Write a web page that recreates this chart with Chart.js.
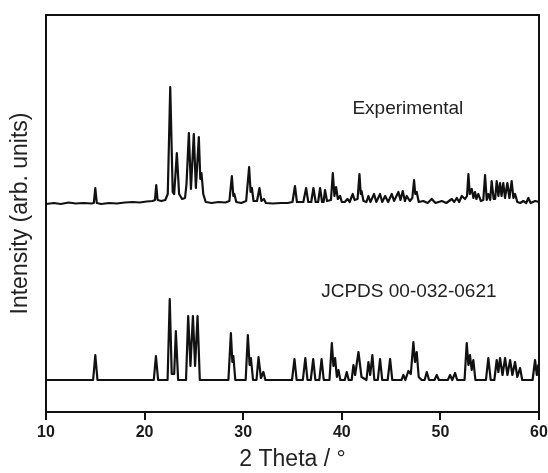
<!DOCTYPE html>
<html>
<head>
<meta charset="utf-8">
<script src="https://cdn.jsdelivr.net/npm/chart.js@4"></script>
<style>
  body { margin: 0; background: #fff; }
  canvas { display: block; }
</style>
</head>
<body>
<canvas id="xrdChart" width="548" height="473"></canvas>
<script>
const xTicks = [10, 20, 30, 40, 50, 60];

// experimental trace (2 theta, intensity above its own baseline)
const expX = [10, 10.8, 11.5, 12.3, 13.0, 13.8, 14.6, 14.85, 15.0, 15.15, 15.6, 16.4, 17.2, 18.0, 18.8, 19.5, 20.2, 20.8,
  21.05, 21.18, 21.32, 21.7, 22.1, 22.35, 22.6, 22.85, 23.0, 23.27, 23.5, 23.8, 24.1, 24.25, 24.49, 24.7, 24.99, 25.2,
  25.5, 25.65, 25.77, 25.95, 26.2, 26.8, 27.5, 28.2, 28.6, 28.85, 29.0, 29.1, 29.3, 29.8, 30.3, 30.6, 30.75, 30.88,
  31.05, 31.4, 31.65, 31.85, 32.1, 32.3, 33.0, 33.8, 34.5, 35.0, 35.25, 35.45, 36.1, 36.38, 36.6, 36.9, 37.12, 37.35,
  37.6, 37.8, 38.0, 38.15, 38.3, 38.5, 38.9, 39.09, 39.25, 39.42, 39.6, 39.83, 40.0, 40.3, 40.57, 40.8, 41.11, 41.3,
  41.6, 41.79, 41.92, 42.0, 42.2, 42.5, 42.7, 42.9, 43.27, 43.5, 43.88, 44.1, 44.4, 44.7, 45.07, 45.3, 45.74, 45.95,
  46.18, 46.4, 46.59, 46.9, 47.15, 47.33, 47.45, 47.6, 47.8, 48.27, 48.7, 49.12, 49.5, 50.14, 50.6, 51.15, 51.4, 51.66,
  51.9, 52.17, 52.5, 52.7, 52.84, 52.98, 53.18, 53.35, 53.51, 53.65, 53.85, 54.1, 54.35, 54.53, 54.7, 54.86, 55.05,
  55.2, 55.4, 55.55, 55.71, 55.88, 56.05, 56.2, 56.38, 56.55, 56.79, 57.0, 57.23, 57.4, 57.57, 57.8, 58.1, 58.41, 58.7,
  58.92, 59.15, 59.6, 60.0];
const expY = [0, 1, 0, 1.5, 0.5, 1, 0.5, 1, 16, 1, 0, 1, 0.5, 1.5, 2, 1.5, 2.5, 3,
  4, 19, 4, 3, 4, 10, 117, 12, 10, 51, 10, 5, 6, 20, 71, 15, 70, 16,
  67, 25, 31, 10, 2, 1, 2, 1.5, 3, 28, 8, 10, 2, 1, 3, 37, 12, 16,
  3, 3, 16, 3, 5, 1, 0.5, 1, 1, 2, 18, 2, 2, 16, 2, 2, 16, 2,
  2, 16, 2, 2, 14, 3, 4, 31, 8, 17, 5, 8, 2, 2, 5, 2, 10, 4,
  5, 30, 10, 13, 3, 2, 8, 2, 10, 2, 10, 2, 8, 2, 10, 3, 12, 4,
  13, 3, 8, 3, 6, 24, 10, 12, 2, 3, 1, 5, 1, 3, 1, 5, 2, 6,
  2, 8, 5, 8, 30, 10, 15, 6, 12, 5, 10, 3, 4, 29, 4, 10, 4,
  23, 5, 5, 23, 8, 21, 8, 21, 6, 21, 6, 23, 6, 10, 2, 1, 3, 1,
  6, 1, 3, 2];

// JCPDS 00-032-0621 reference pattern
const refX = [10, 14.78, 15.0, 15.22, 20.93, 21.15, 21.37, 22.33, 22.55, 22.75, 23.0, 23.17, 23.4, 24.2, 24.42, 24.65,
  24.9, 25.12, 25.37, 25.6, 28.5, 28.75, 28.9, 29.0, 29.2, 30.25, 30.47, 30.65, 30.78, 31.0, 31.35, 31.55, 31.8, 32.05,
  32.25, 34.95, 35.2, 35.42, 36.05, 36.3, 36.52, 36.85, 37.1, 37.32, 37.72, 37.95, 38.17, 38.75, 38.99, 39.15, 39.32, 39.5,
  39.66, 39.85, 40.3, 40.5, 40.7, 41.0, 41.18, 41.35, 41.69, 41.85, 42.0, 42.5, 42.7, 42.88, 43.1, 43.3, 43.65, 43.88,
  44.1, 44.65, 44.9, 45.12, 46.05, 46.25, 46.45, 46.75, 47.0, 47.26, 47.42, 47.6, 47.8, 48.1, 48.4, 48.62, 48.85, 49.4,
  49.63, 49.85, 50.75, 50.98, 51.2, 51.49, 51.7, 52.45, 52.67, 52.84, 53.0, 53.17, 53.34, 53.55, 54.62, 54.86, 55.1,
  55.47, 55.71, 55.88, 56.05, 56.3, 56.56, 56.8, 57.07, 57.3, 57.57, 57.8, 58.08, 58.3, 59.35, 59.6, 59.78, 59.93, 60];
const refY = [0, 0, 25, 0, 0, 24, 0, 0, 81, 6, 6, 49, 0, 0, 64, 14,
  64, 14, 64, 0, 0, 47, 18, 24, 0, 0, 45, 15, 22, 0, 0, 23, 2, 8,
  0, 0, 21, 0, 0, 22, 0, 0, 21, 0, 0, 21, 0, 0, 37, 14, 22, 3,
  10, 0, 0, 8, 0, 0, 15, 5, 28, 15, 3, 0, 18, 5, 25, 0, 0, 21,
  0, 0, 21, 0, 0, 5, 0, 9, 6, 38, 18, 28, 3, 0, 0, 8, 0, 0,
  5, 0, 0, 5, 0, 7, 0, 0, 37, 15, 25, 10, 20, 0, 0, 22, 0,
  0, 20, 8, 22, 5, 22, 5, 20, 5, 18, 3, 12, 0, 0, 20, 5, 15, 8];

// vertical stacking of the two patterns
const expOffset = 208;
const refOffset = 32;

function toPoints(xs, ys, offset) {
  return xs.map((x, i) => ({ x: x, y: ys[i] + offset }));
}

// box around the plot plus the two text labels
const framePlugin = {
  id: 'frame',
  afterDraw(chart) {
    const { ctx, chartArea: a, scales } = chart;
    ctx.save();
    ctx.strokeStyle = '#111';
    ctx.lineWidth = 2;
    ctx.strokeRect(a.left, a.top, a.right - a.left, a.bottom - a.top);

    ctx.fillStyle = '#222';
    ctx.font = '19px "Liberation Sans", Arial, sans-serif';
    ctx.textAlign = 'center';
    ctx.textBaseline = 'middle';
    ctx.fillText('Experimental', scales.x.getPixelForValue(46.7), scales.y.getPixelForValue(303));
    ctx.fillText('JCPDS 00-032-0621', scales.x.getPixelForValue(46.8), scales.y.getPixelForValue(120));
    ctx.restore();
  }
};

const ctx = document.getElementById('xrdChart').getContext('2d');

new Chart(ctx, {
  type: 'line',
  data: {
    datasets: [
      {
        label: 'Experimental',
        data: toPoints(expX, expY, expOffset),
        borderColor: '#111',
        borderWidth: 2.2,
        borderJoinStyle: 'round',
        pointRadius: 0,
        tension: 0
      },
      {
        label: 'JCPDS 00-032-0621',
        data: toPoints(refX, refY, refOffset),
        borderColor: '#111',
        borderWidth: 2.2,
        borderJoinStyle: 'round',
        pointRadius: 0,
        tension: 0
      }
    ]
  },
  options: {
    responsive: false,
    animation: false,
    devicePixelRatio: 1,
    layout: { padding: { top: 15, right: 9, left: 0, bottom: 0 } },
    plugins: {
      legend: { display: false },
      tooltip: { enabled: false }
    },
    scales: {
      x: {
        type: 'linear',
        min: 10,
        max: 60,
        afterBuildTicks(scale) {
          scale.ticks = xTicks.map(v => ({ value: v }));
        },
        afterFit(scale) {
          scale.height = 61;
          scale.paddingRight = 0;
        },
        grid: {
          drawOnChartArea: false,
          drawTicks: true,
          tickLength: 8,
          color: '#111',
          lineWidth: 2
        },
        border: { display: true, color: '#111', width: 2 },
        ticks: {
          padding: 3,
          color: '#1a1a1a',
          maxRotation: 0,
          font: { family: '"Liberation Sans", Arial, sans-serif', size: 16, weight: 'bold' }
        },
        title: {
          display: true,
          text: '2 Theta / °',
          color: '#222',
          padding: { top: 0, bottom: 0 },
          font: { family: '"Liberation Sans", Arial, sans-serif', size: 23 }
        }
      },
      y: {
        min: 0,
        max: 397,
        afterFit(scale) { scale.width = 46; },
        grid: { display: false },
        border: { display: false },
        ticks: { display: false },
        title: {
          display: true,
          text: 'Intensity (arb. units)',
          color: '#222',
          padding: { top: 7, bottom: 0 },
          font: { family: '"Liberation Sans", Arial, sans-serif', size: 23 }
        }
      }
    }
  },
  plugins: [framePlugin]
});
</script>
</body>
</html>
